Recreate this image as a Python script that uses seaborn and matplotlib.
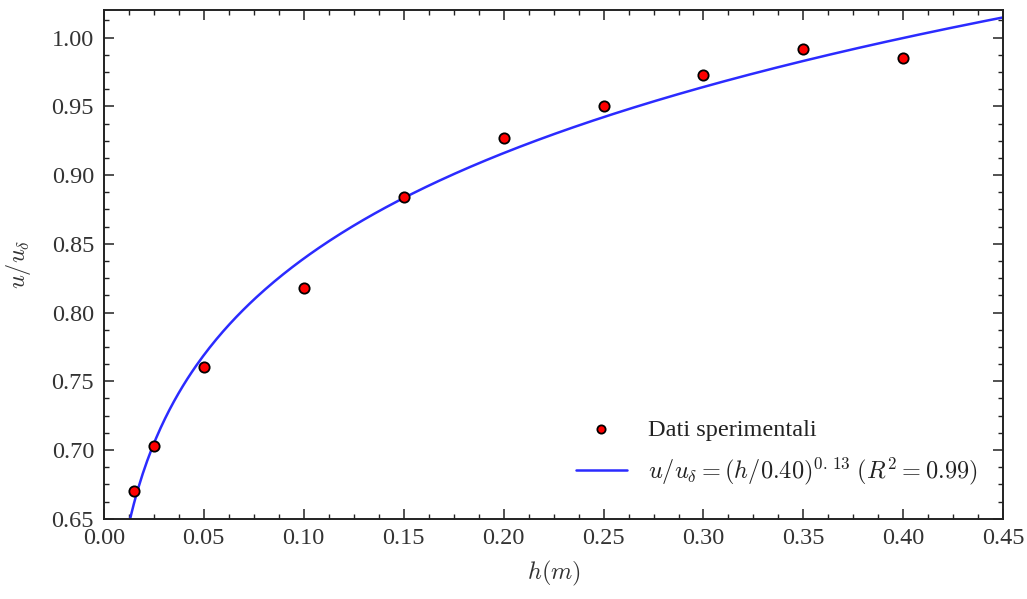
import numpy as np
import pandas as pd
import matplotlib
matplotlib.use("Agg")
import matplotlib.pyplot as plt
from matplotlib.ticker import MultipleLocator
import seaborn as sns

# ---- data ----
h_values = [0.015, 0.025, 0.05, 0.10, 0.15, 0.20, 0.25, 0.30, 0.35, 0.40]
u_ratio = [0.670, 0.703, 0.7605, 0.818, 0.884, 0.927, 0.950, 0.973, 0.992, 0.985]
data_label = "Dati sperimentali"
fit_label = r"$u/u_\delta = (h/0.40)^{0.\,13}\;(R^2 = 0.99)$"
x_ticks = [0.00, 0.05, 0.10, 0.15, 0.20, 0.25, 0.30, 0.35, 0.40, 0.45]
y_ticks = [0.65, 0.70, 0.75, 0.80, 0.85, 0.90, 0.95, 1.00]

sns.set_style("ticks")
plt.rcParams["font.family"] = ["Liberation Serif", "DejaVu Serif"]
plt.rcParams["mathtext.fontset"] = "cm"
plt.rcParams.update({
    "xtick.direction": "in", "ytick.direction": "in",
    "xtick.top": True, "ytick.right": True,
    "xtick.major.size": 7, "ytick.major.size": 7,
    "xtick.minor.size": 3.5, "ytick.minor.size": 3.5,
    "xtick.major.width": 1.1, "ytick.major.width": 1.1,
    "xtick.minor.width": 1.0, "ytick.minor.width": 1.0,
    "axes.edgecolor": "#222222", "axes.linewidth": 1.4,
    "xtick.color": "#222222", "ytick.color": "#222222",
})

df = pd.DataFrame({"h": h_values, "u": u_ratio})

# power-law fit of the data in log space
b, c = np.polyfit(np.log(df["h"]), np.log(df["u"]), 1)
h_fit = np.linspace(0.005, 0.45, 400)
fit_df = pd.DataFrame({"h": h_fit, "u": np.exp(c) * h_fit ** b})

fig = plt.figure(figsize=(10.27, 5.99), dpi=100)
ax = fig.add_axes([0.101, 0.134, 0.876, 0.849])

sns.scatterplot(data=df, x="h", y="u", ax=ax, color="red", edgecolor="black",
                linewidth=1.3, s=55, zorder=3, label=data_label)
sns.lineplot(data=fit_df, x="h", y="u", ax=ax, color="#2b2bff", linewidth=1.8,
             zorder=2, label=fit_label)

ax.set_xlim(0.0, 0.45)
ax.set_ylim(0.65, 1.02)
ax.set_xticks(x_ticks)
ax.set_yticks(y_ticks)
ax.xaxis.set_minor_locator(MultipleLocator(0.0125))
ax.yaxis.set_minor_locator(MultipleLocator(0.0125))
ax.set_xticklabels([f"{v:.2f}" for v in x_ticks])
ax.set_yticklabels([f"{v:.2f}" for v in y_ticks])
ax.tick_params(axis="both", which="major", labelsize=17.5, pad=7, colors="#222222")
for lab in ax.get_xticklabels() + ax.get_yticklabels():
    lab.set_color("#333333")

ax.set_xlabel(r"$h(m)$", fontsize=17.5, color="#333333", labelpad=7)
ax.set_ylabel(r"$u/u_\delta$", fontsize=17.5, color="#333333", labelpad=13)

leg = ax.legend(loc="lower right", frameon=False, fontsize=17.5,
                bbox_to_anchor=(0.995, 0.02), handlelength=2.1, handletextpad=0.85,
                labelspacing=0.6, markerscale=0.8)
for t in leg.get_texts():
    t.set_color("#222222")

fig.savefig("out.png", dpi=100)
